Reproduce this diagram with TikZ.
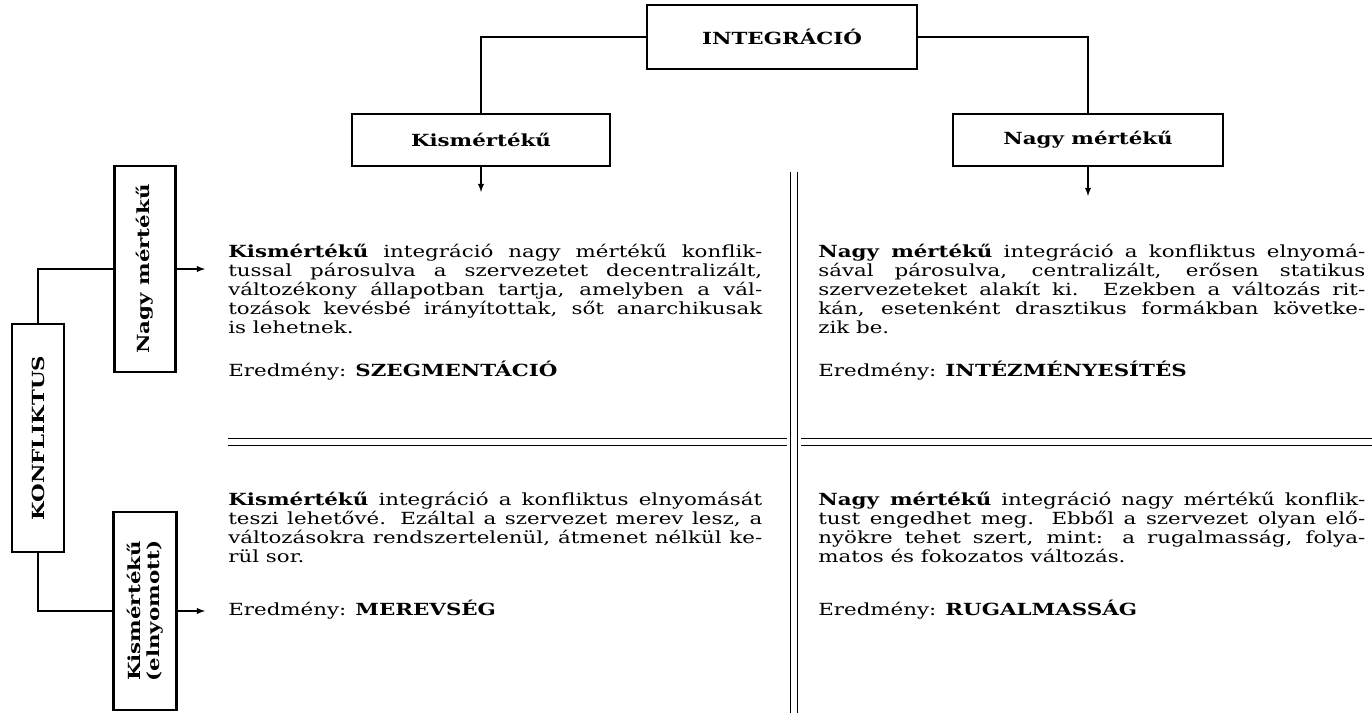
\documentclass[tikz,border=0pt]{standalone}
\usepackage{fontspec}
\setmainfont{DejaVu Serif}[FakeStretch=1.28]
\usepackage{tikz}
\usetikzlibrary{positioning}
\tikzstyle{boxed}=[draw,line width=1.6pt,inner sep=0pt]
\tikzstyle{conn}=[line width=0.6pt]
\tikzstyle{arr}=[line width=0.6pt,-latex]
\tikzstyle{dline}=[line width=0.6pt,double,double distance=1.2mm]
\tikzstyle{para}=[anchor=north west,inner sep=0pt,align=justify,font=\fontsize{9.5}{10.8}\selectfont]
\tikzstyle{result}=[anchor=base west,inner sep=0pt,font=\fontsize{9.5}{10.8}\selectfont]

\begin{document}
\begin{tikzpicture}[x=0.02cm,y=-0.02cm,font=\fontsize{9.5}{10.8}\selectfont]
        \useasboundingbox (0,0) rectangle (1372,713);
        \node[boxed,minimum width=5.4cm,minimum height=1.28cm] (integ) at (782,37) {\textbf{INTEGRÁCIÓ}};
        \node[boxed,minimum width=5.16cm,minimum height=1.04cm] (kis) at (481,140) {\textbf{Kismértékű}};
        \node[boxed,minimum width=5.4cm,minimum height=1.04cm] (nagy) at (1088,140) {\textbf{Nagy mértékű}};
        \draw[conn] (integ.west) -| (kis.north);
        \draw[conn] (integ.east) -| (nagy.north);
        \coordinate (kisend) at (481,192);
        \coordinate (nagyend) at (1088,196);
        \draw[arr] (kis.south) -- (kisend);
        \draw[arr] (nagy.south) -- (nagyend);

        \node[boxed,minimum width=1.04cm,minimum height=4.56cm] (konf) at (38,438) {};
        \node[rotate=90] (konflabel) at (konf) {\textbf{KONFLIKTUS}};
        \node[boxed,minimum width=1.22cm,minimum height=4.12cm] (nagyv) at (145,269) {};
        \node[rotate=90] (nagyvlabel) at (nagyv) {\textbf{Nagy mértékű}};
        \node[boxed,minimum width=1.26cm,minimum height=3.96cm] (kisv) at (145,611) {};
        \node[rotate=90,align=center] (kisvlabel) at (kisv) {\textbf{Kismértékű}\\\textbf{(elnyomott)}};
        \draw[conn] (konf.north) |- (nagyv.west);
        \draw[conn] (konf.south) |- (kisv.west);
        \coordinate (nagyvend) at (205,269);
        \coordinate (kisvend) at (205,611);
        \draw[arr] (nagyv.east) -- (nagyvend);
        \draw[arr] (kisv.east) -- (kisvend);

        \coordinate (vtop) at (794,172);
        \coordinate (vbot) at (794,713);
        \coordinate (hl1) at (228,442);
        \coordinate (hl2) at (787,442);
        \coordinate (hr1) at (801,442);
        \coordinate (hr2) at (1372,442);
        \draw[dline] (vtop) -- (vbot);
        \draw[dline] (hl1) -- (hl2);
        \draw[dline] (hr1) -- (hr2);

        \node[para,text width=10.68cm] (tl) at (228,244) {\textbf{Kismértékű} integráció nagy mértékű konflik-\linebreak tussal párosulva a szervezetet decentralizált,\linebreak változékony állapotban tartja, amelyben a vál-\linebreak tozások kevésbé irányítottak, sőt anarchikusak\linebreak is lehetnek.};
        \node[result] (tlres) at (228,376) {Eredmény: \textbf{SZEGMENTÁCIÓ}};
        \node[para,text width=10.94cm] (tr) at (818,244) {\textbf{Nagy mértékű} integráció a konfliktus elnyomá-\linebreak sával párosulva, centralizált, erősen statikus\linebreak szervezeteket alakít ki. Ezekben a változás rit-\linebreak kán, esetenként drasztikus formákban követke-\linebreak zik be.};
        \node[result] (trres) at (818,376) {Eredmény: \textbf{INTÉZMÉNYESÍTÉS}};
        \node[para,text width=10.68cm] (bl) at (228,492) {\textbf{Kismértékű} integráció a konfliktus elnyomását\linebreak teszi lehetővé. Ezáltal a szervezet merev lesz, a\linebreak változásokra rendszertelenül, átmenet nélkül ke-\linebreak rül sor.};
        \node[result] (blres) at (228,615) {Eredmény: \textbf{MEREVSÉG}};
        \node[para,text width=10.94cm] (br) at (818,492) {\textbf{Nagy mértékű} integráció nagy mértékű konflik-\linebreak tust engedhet meg. Ebből a szervezet olyan elő-\linebreak nyökre tehet szert, mint: a rugalmasság, folya-\linebreak matos és fokozatos változás.};
        \node[result] (brres) at (818,615) {Eredmény: \textbf{RUGALMASSÁG}};
    \end{tikzpicture}
\end{document}
